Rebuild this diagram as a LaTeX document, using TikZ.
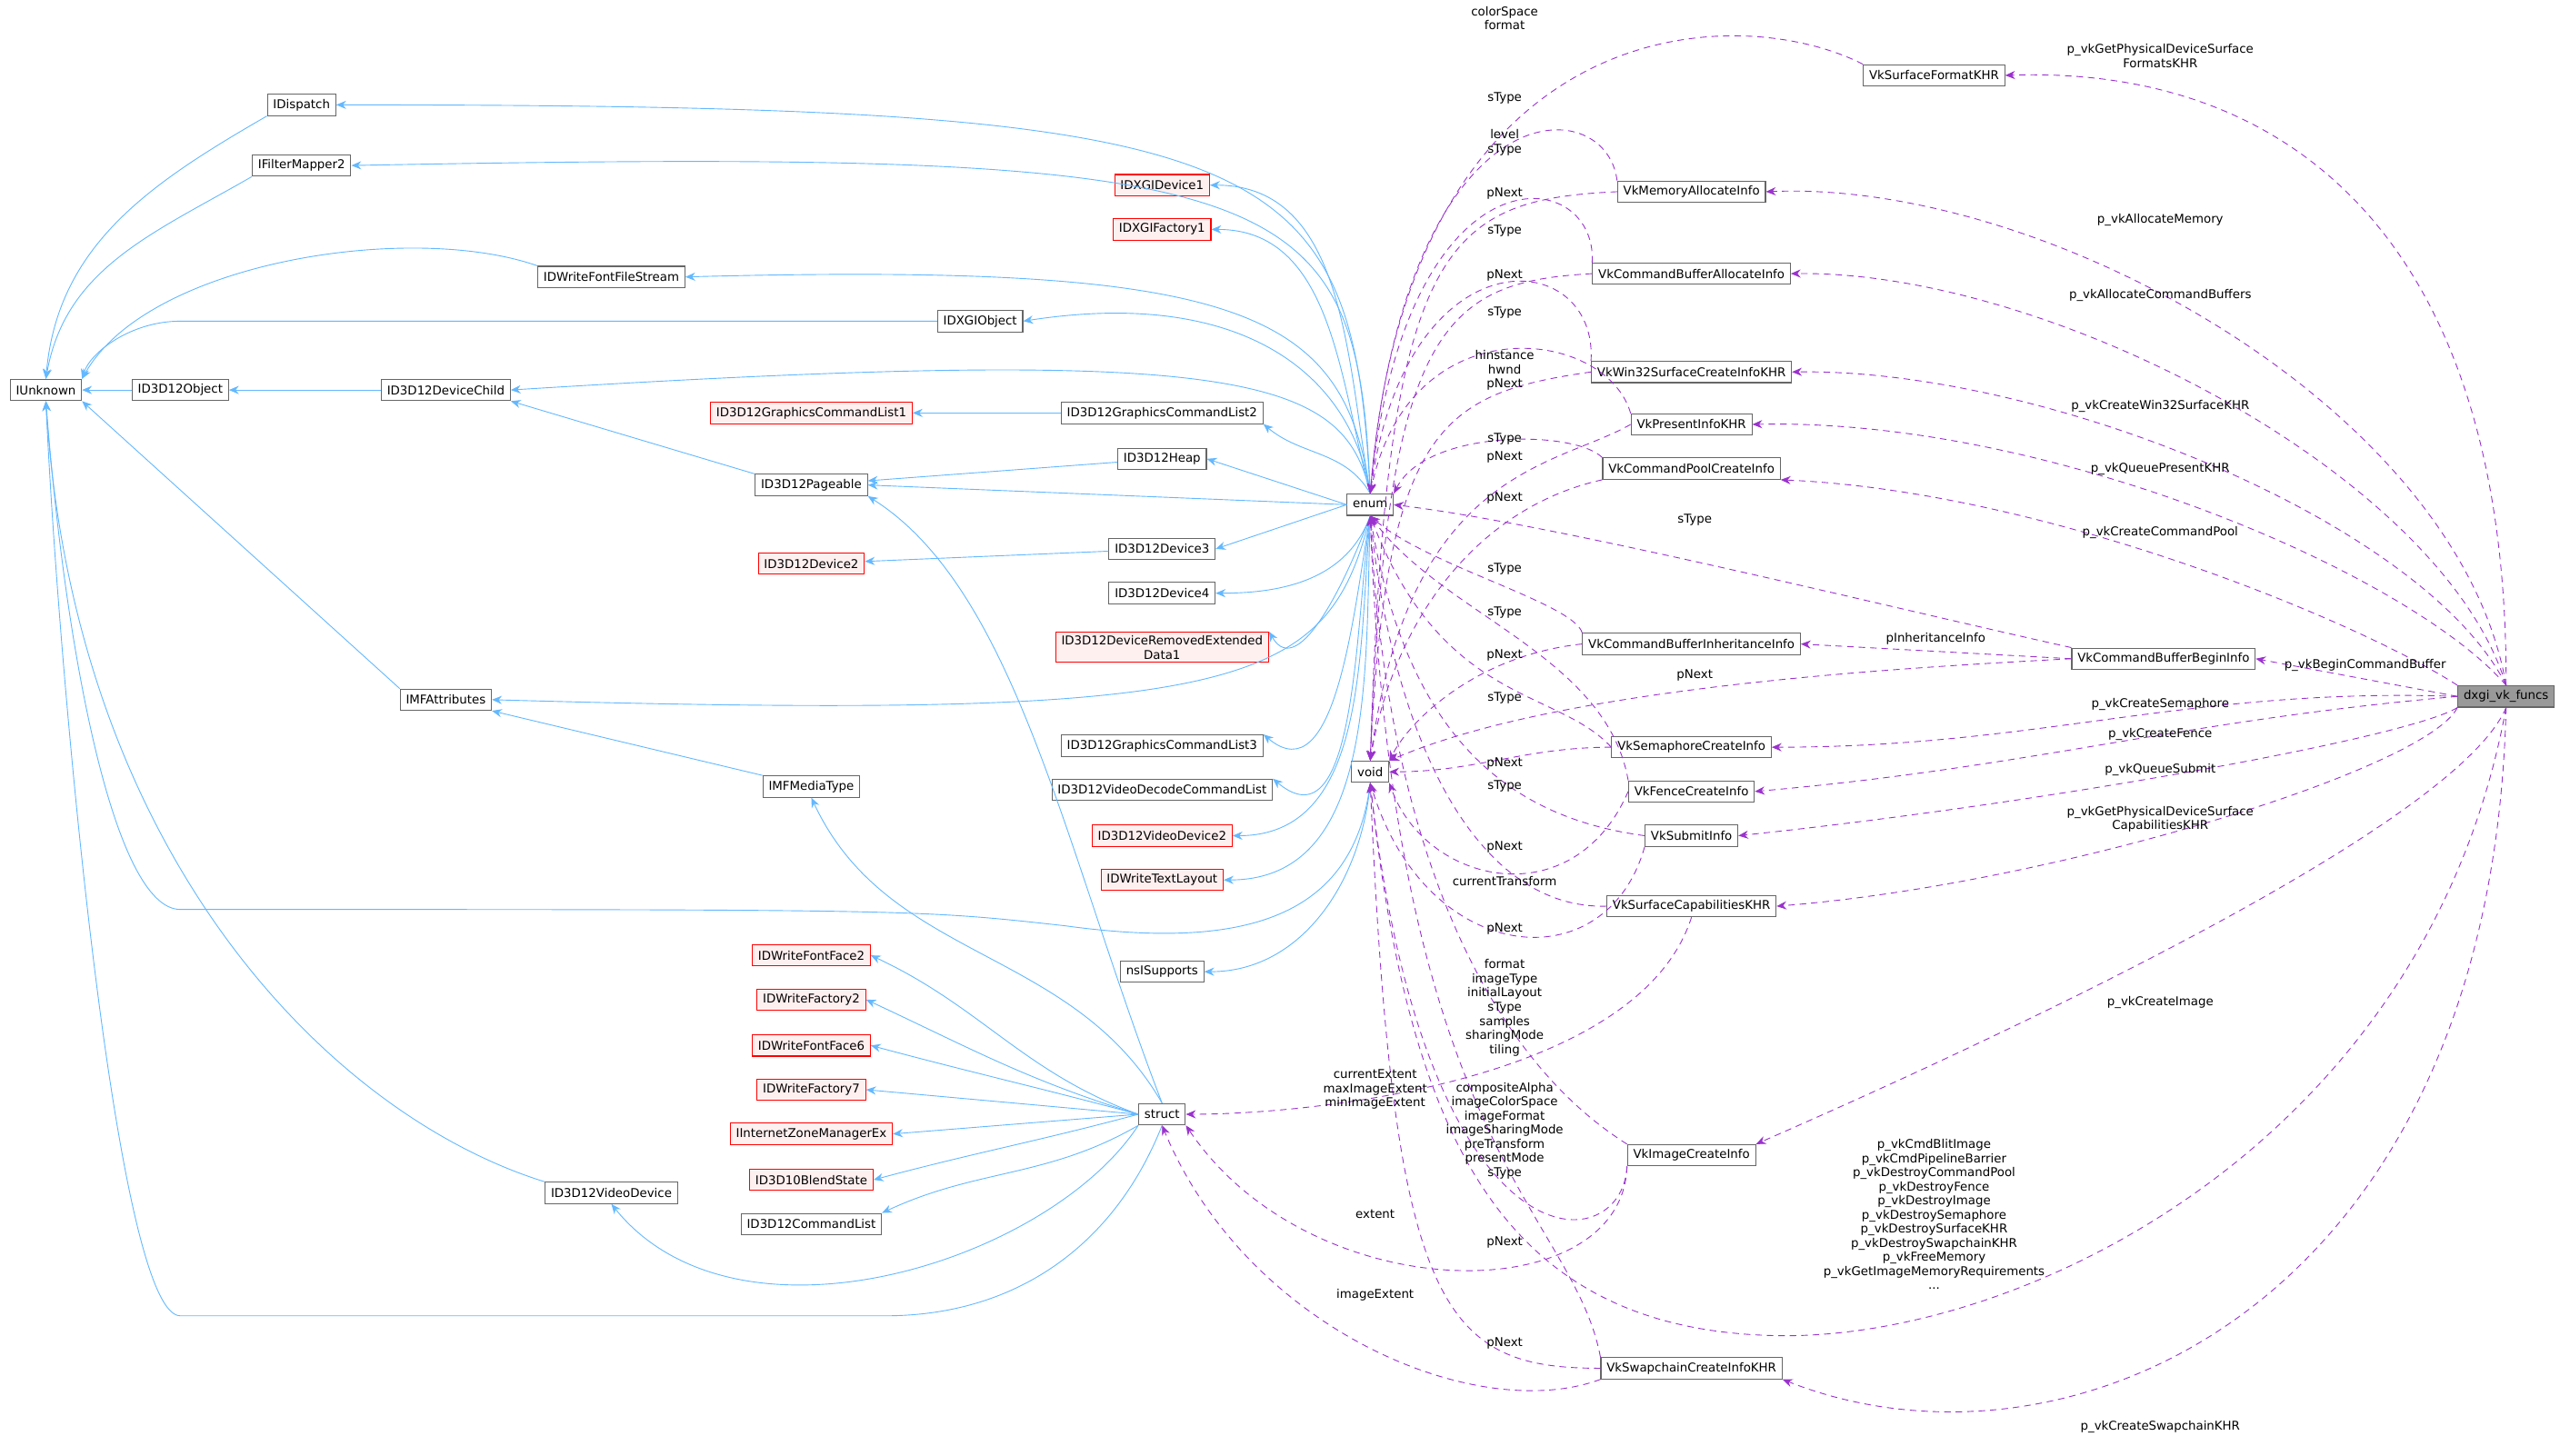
\documentclass[tikz,border=0pt]{standalone}
\usepackage{fontspec}
\setmainfont{DejaVu Sans}
\usetikzlibrary{arrows.meta}
\definecolor{inh}{HTML}{63B8FF}
\definecolor{ppl}{HTML}{9A32CD}
\definecolor{bx}{HTML}{666666}
\tikzset{
  cls/.style={draw=bx, fill=white, font=\fontsize{7.4}{8.8}\selectfont, inner xsep=3.5pt, inner ysep=0pt, minimum height=13pt, line width=.6pt},
  bad/.style={cls, draw=red, fill=red!6},
  me/.style={cls, fill=black!40},
  lbl/.style={font=\fontsize{7.4}{8.6}\selectfont, align=center, inner sep=0pt},
  inh/.style={draw=inh, line width=.5pt, -{Stealth[length=6pt,width=5pt]}},
  use/.style={draw=ppl, line width=.5pt, dash pattern=on 4pt off 3pt, -{Stealth[length=6pt,width=5pt]}},
}
\begin{document}
\begin{tikzpicture}[x=1pt, y=-1pt]
\useasboundingbox (0,0) rectangle (1568,888);
% classes
\node[cls] (IUnknown) at (28,238) {IUnknown};
\node[cls] (IDispatch) at (184,64) {IDispatch};
\node[cls] (IFilterMapper2) at (184,101) {IFilterMapper2};
\node[cls] (ID3D12Object) at (110,238) {ID3D12Object};
\node[cls] (ID3D12DeviceChild) at (272,238) {ID3D12DeviceChild};
\node[cls] (IDWriteFontFileStream) at (373,169) {IDWriteFontFileStream};
\node[cls] (IDXGIObject) at (598,196) {IDXGIObject};
\node[bad] (IDXGIDevice1) at (709,113) {IDXGIDevice1};
\node[bad] (IDXGIFactory1) at (709,140) {IDXGIFactory1};
\node[bad] (CmdList1) at (495,252) {ID3D12GraphicsCommandList1};
\node[cls] (CmdList2) at (709,252) {ID3D12GraphicsCommandList2};
\node[cls] (ID3D12Heap) at (709,280) {ID3D12Heap};
\node[cls] (ID3D12Pageable) at (495,296) {ID3D12Pageable};
\node[cls] (ID3D12Device3) at (709,335) {ID3D12Device3};
\node[bad] (ID3D12Device2) at (495,344) {ID3D12Device2};
\node[cls] (ID3D12Device4) at (709,362) {ID3D12Device4};
\node[bad, align=center, inner ysep=2pt] (DRED1) at (709,395) {ID3D12DeviceRemovedExtended\\Data1};
\node[cls] (IMFAttributes) at (272,427) {IMFAttributes};
\node[cls] (IMFMediaType) at (495,480) {IMFMediaType};
\node[cls] (CmdList3) at (709,455) {ID3D12GraphicsCommandList3};
\node[cls] (VideoDecode) at (709,482) {ID3D12VideoDecodeCommandList};
\node[bad] (VideoDevice2) at (709,510) {ID3D12VideoDevice2};
\node[bad] (IDWriteTextLayout) at (709,537) {IDWriteTextLayout};
\node[cls] (nsISupports) at (709,593) {nsISupports};
\node[bad] (IDWriteFontFace2) at (495,583) {IDWriteFontFace2};
\node[bad] (IDWriteFactory2) at (495,610) {IDWriteFactory2};
\node[bad] (IDWriteFontFace6) at (495,638) {IDWriteFontFace6};
\node[bad] (IDWriteFactory7) at (495,665) {IDWriteFactory7};
\node[bad] (IInternetZoneManagerEx) at (495,692) {IInternetZoneManagerEx};
\node[bad] (ID3D10BlendState) at (495,720) {ID3D10BlendState};
\node[cls] (ID3D12CommandList) at (495,747) {ID3D12CommandList};
\node[cls] (ID3D12VideoDevice) at (373,728) {ID3D12VideoDevice};
\node[cls] (struct) at (709,680) {struct};
\node[cls] (enum) at (836,308) {enum};
\node[cls] (void) at (836,471) {void};
% vulkan structs
\node[cls] (VkSurfaceFormatKHR) at (1180,46) {VkSurfaceFormatKHR};
\node[cls] (VkMemoryAllocateInfo) at (1032,117) {VkMemoryAllocateInfo};
\node[cls] (VkCmdBufAllocInfo) at (1032,167) {VkCommandBufferAllocateInfo};
\node[cls] (VkWin32Info) at (1032,227) {VkWin32SurfaceCreateInfoKHR};
\node[cls] (VkPresentInfoKHR) at (1032,259) {VkPresentInfoKHR};
\node[cls] (VkCmdPoolInfo) at (1032,286) {VkCommandPoolCreateInfo};
\node[cls] (VkInheritInfo) at (1032,393) {VkCommandBufferInheritanceInfo};
\node[cls] (VkBeginInfo) at (1320,402) {VkCommandBufferBeginInfo};
\node[cls] (VkSemaphoreInfo) at (1032,456) {VkSemaphoreCreateInfo};
\node[cls] (VkFenceInfo) at (1032,483) {VkFenceCreateInfo};
\node[cls] (VkSubmitInfo) at (1032,510) {VkSubmitInfo};
\node[cls] (VkSurfaceCaps) at (1032,553) {VkSurfaceCapabilitiesKHR};
\node[cls] (VkImageInfo) at (1032,705) {VkImageCreateInfo};
\node[cls] (VkSwapchainInfo) at (1032,835) {VkSwapchainCreateInfoKHR};
\node[me] (dxgi) at (1529,425) {dxgi\_vk\_funcs};
% inheritance
\draw[inh] (IDispatch.south west) to[out=-150,in=85] (IUnknown.north);
\draw[inh] (IFilterMapper2.south west) to[out=-150,in=80] (IUnknown.north);
\draw[inh] (IDWriteFontFileStream.north west) .. controls (250,135) and (90,160) .. (IUnknown.north east);
\draw[inh] (IDXGIObject.west) -- (110,196) .. controls (80,196) and (55,215) .. (IUnknown.north east);
\draw[inh] (ID3D12Object) -- (IUnknown);
\draw[inh] (ID3D12DeviceChild) -- (ID3D12Object);
\draw[inh] (ID3D12Pageable.north west) -- (ID3D12DeviceChild.south east);
\draw[inh] (CmdList2) -- (CmdList1);
\draw[inh] (ID3D12Heap) -- (ID3D12Pageable);
\draw[inh] (ID3D12Device3) -- (ID3D12Device2);
\draw[inh] (IMFAttributes.north west) -- (IUnknown.south east);
\draw[inh] (IMFMediaType.north west) -- (IMFAttributes.south east);
\draw[inh] (ID3D12VideoDevice.north west) .. controls (200,680) and (45,520) .. (IUnknown.south);
\draw[inh] (enum.north) .. controls (825,90) and (780,64) .. (IDispatch.east);
\draw[inh] (enum.north) .. controls (828,110) and (790,90) .. (IFilterMapper2.east);
\draw[inh] (enum.north) .. controls (820,190) and (760,160) .. (IDWriteFontFileStream.east);
\draw[inh] (enum.north) .. controls (825,230) and (760,175) .. (IDXGIObject.east);
\draw[inh] (enum.north) to[out=100,in=0] (IDXGIDevice1.east);
\draw[inh] (enum.north) to[out=105,in=0] (IDXGIFactory1.east);
\draw[inh] (enum.north) .. controls (820,230) and (760,210) .. (ID3D12DeviceChild.east);
\draw[inh] (enum.north) to[out=120,in=-40] (CmdList2.south east);
\draw[inh] (enum.west) -- (ID3D12Heap.east);
\draw[inh] (enum.west) -- (ID3D12Pageable.east);
\draw[inh] (enum.west) -- (ID3D12Device3.east);
\draw[inh] (enum.south) to[out=-110,in=0] (ID3D12Device4.east);
\draw[inh] (enum.south) to[out=-110,in=-60] (DRED1.north east);
\draw[inh] (enum.south) .. controls (810,420) and (760,440) .. (IMFAttributes.east);
\draw[inh] (enum.south) to[out=-100,in=-40] (CmdList3.north east);
\draw[inh] (enum.south) to[out=-98,in=-40] (VideoDecode.north east);
\draw[inh] (enum.south) to[out=-95,in=0] (VideoDevice2.east);
\draw[inh] (enum.south) to[out=-92,in=0] (IDWriteTextLayout.east);
\draw[inh] (void.south) to[out=-95,in=0] (nsISupports.east);
\draw[inh] (void.south) .. controls (826,560) and (760,580) .. (650,565) .. controls (560,555) .. (110,555) .. controls (70,555) and (40,400) .. (IUnknown.south);
\draw[inh] (struct.south) .. controls (680,760) and (620,803) .. (540,803) -- (110,803) .. controls (70,803) and (35,400) .. (IUnknown.south);
\draw[inh] (struct.north) .. controls (650,520) and (620,360) .. (ID3D12Pageable.south east);
\draw[inh] (struct.north) to[out=120,in=-65] (IMFMediaType.south);
\draw[inh] (struct.west) to[out=160,in=-25] (IDWriteFontFace2.east);
\draw[inh] (struct.west) to[out=163,in=-25] (IDWriteFactory2.east);
\draw[inh] (struct.west) to[out=165,in=-15] (IDWriteFontFace6.east);
\draw[inh] (struct.west) -- (IDWriteFactory7.east);
\draw[inh] (struct.west) -- (IInternetZoneManagerEx.east);
\draw[inh] (struct.west) to[out=-165,in=15] (ID3D10BlendState.east);
\draw[inh] (struct.south west) to[out=-150,in=25] (ID3D12CommandList.north east);
\draw[inh] (struct.south west) .. controls (640,770) and (450,830) .. (ID3D12VideoDevice.south);
% usage from dxgi_vk_funcs
\draw[use] (dxgi.north) .. controls (1530,150) and (1400,40) .. (VkSurfaceFormatKHR.east);
\draw[use] (dxgi.north) .. controls (1500,250) and (1250,110) .. (VkMemoryAllocateInfo.east);
\draw[use] (dxgi.north) .. controls (1490,290) and (1250,165) .. (VkCmdBufAllocInfo.east);
\draw[use] (dxgi.north) .. controls (1480,320) and (1250,225) .. (VkWin32Info.east);
\draw[use] (dxgi.north) .. controls (1470,350) and (1250,255) .. (VkPresentInfoKHR.east);
\draw[use] (dxgi.north west) .. controls (1440,380) and (1250,300) .. (VkCmdPoolInfo.south east);
\draw[use] (dxgi.west) -- (VkBeginInfo.east);
\draw[use] (dxgi.west) to[out=178,in=0] (VkSemaphoreInfo.east);
\draw[use] (dxgi.west) to[out=-175,in=5] (VkFenceInfo.east);
\draw[use] (dxgi.south west) .. controls (1470,450) and (1250,490) .. (VkSubmitInfo.east);
\draw[use] (dxgi.south west) .. controls (1480,470) and (1250,540) .. (VkSurfaceCaps.east);
\draw[use] (dxgi.south) .. controls (1500,500) and (1250,620) .. (VkImageInfo.north east);
\draw[use] (dxgi.south) .. controls (1480,700) and (1230,820) .. (1080,815) .. controls (920,810) and (860,700) .. (void.south);
\draw[use] (dxgi.south) .. controls (1520,800) and (1260,910) .. (VkSwapchainInfo.south east);
\draw[use] (VkBeginInfo.west) -- (VkInheritInfo.east);
\draw[use] (VkBeginInfo.north west) .. controls (1150,370) and (950,320) .. (enum.east);
\draw[use] (VkBeginInfo.west) .. controls (1150,408) and (950,420) .. (void.north east);
% members to enum
\draw[use] (VkSurfaceFormatKHR.north west) .. controls (1060,0) and (860,5) .. (enum.north);
\draw[use] (VkMemoryAllocateInfo.north west) .. controls (980,55) and (858,50) .. (enum.north);
\draw[use] (VkCmdBufAllocInfo.north west) .. controls (975,100) and (858,85) .. (enum.north);
\draw[use] (VkWin32Info.north west) .. controls (975,150) and (858,140) .. (enum.north);
\draw[use] (VkPresentInfoKHR.north west) .. controls (980,200) and (860,185) .. (enum.north);
\draw[use] (VkCmdPoolInfo.north west) .. controls (960,262) and (870,262) .. (enum.north east);
\draw[use] (VkInheritInfo.north west) .. controls (960,368) and (870,345) .. (enum.south);
\draw[use] (VkFenceInfo.north west) .. controls (980,400) and (880,375) .. (enum.south);
\draw[use] (VkSemaphoreInfo.west) .. controls (950,420) and (880,430) .. (enum.south);
\draw[use] (VkSubmitInfo.west) .. controls (930,500) and (860,460) .. (enum.south);
\draw[use] (VkSurfaceCaps.west) .. controls (900,555) and (850,450) .. (enum.south);
\draw[use] (VkImageInfo.north west) .. controls (900,640) and (845,500) .. (enum.south);
\draw[use] (VkSwapchainInfo.north west) .. controls (960,740) and (850,700) .. (enum.south);
% members to void
\draw[use] (VkMemoryAllocateInfo.west) .. controls (880,122) and (846,150) .. (void.north);
\draw[use] (VkCmdBufAllocInfo.west) .. controls (880,172) and (846,200) .. (void.north);
\draw[use] (VkWin32Info.west) .. controls (880,240) and (846,260) .. (void.north);
\draw[use] (VkPresentInfoKHR.west) .. controls (950,285) and (860,285) .. (void.north);
\draw[use] (VkCmdPoolInfo.south west) .. controls (900,310) and (850,380) .. (void.north);
\draw[use] (VkInheritInfo.west) .. controls (900,400) and (860,440) .. (void.north east);
\draw[use] (VkSemaphoreInfo.west) to[out=180,in=0] (void.east);
\draw[use] (VkFenceInfo.west) .. controls (960,560) and (870,540) .. (void.south east);
\draw[use] (VkSubmitInfo.south west) .. controls (980,600) and (870,590) .. (void.south);
\draw[use] (VkImageInfo.south west) .. controls (990,770) and (870,780) .. (void.south);
\draw[use] (VkSwapchainInfo.west) .. controls (880,835) and (850,800) .. (void.south);
% members to struct
\draw[use] (VkSurfaceCaps.south) .. controls (1000,660) and (800,680) .. (struct.east);
\draw[use] (VkImageInfo.south west) .. controls (990,800) and (800,800) .. (struct.south east);
\draw[use] (VkSwapchainInfo.south west) .. controls (900,870) and (760,810) .. (struct.south);
% labels
\node[lbl] at (918,11) {colorSpace\\format};
\node[lbl] at (918,60) {sType};
\node[lbl] at (918,87) {level\\sType};
\node[lbl] at (918,118) {pNext};
\node[lbl] at (918,141) {sType};
\node[lbl] at (918,168) {pNext};
\node[lbl] at (918,191) {sType};
\node[lbl] at (918,226) {hinstance\\hwnd\\pNext};
\node[lbl] at (918,268) {sType};
\node[lbl] at (918,279) {pNext};
\node[lbl] at (918,304) {pNext};
\node[lbl] at (918,347) {sType};
\node[lbl] at (918,374) {sType};
\node[lbl] at (918,400) {pNext};
\node[lbl] at (918,426) {sType};
\node[lbl] at (918,466) {pNext};
\node[lbl] at (918,480) {sType};
\node[lbl] at (918,517) {pNext};
\node[lbl] at (918,538) {currentTransform};
\node[lbl] at (918,567) {pNext};
\node[lbl] at (918,615) {format\\imageType\\initialLayout\\sType\\samples\\sharingMode\\tiling};
\node[lbl] at (918,690) {compositeAlpha\\imageColorSpace\\imageFormat\\imageSharingMode\\preTransform\\presentMode\\sType};
\node[lbl] at (918,758) {pNext};
\node[lbl] at (918,820) {pNext};
\node[lbl] at (839,665) {currentExtent\\maxImageExtent\\minImageExtent};
\node[lbl] at (839,741) {extent};
\node[lbl] at (839,790) {imageExtent};
\node[lbl] at (1034,317) {sType};
\node[lbl] at (1034,412) {pNext};
\node[lbl] at (1181,390) {pInheritanceInfo};
\node[lbl] at (1318,34) {p\_vkGetPhysicalDeviceSurface\\FormatsKHR};
\node[lbl] at (1318,134) {p\_vkAllocateMemory};
\node[lbl] at (1318,180) {p\_vkAllocateCommandBuffers};
\node[lbl] at (1318,248) {p\_vkCreateWin32SurfaceKHR};
\node[lbl] at (1318,286) {p\_vkQueuePresentKHR};
\node[lbl] at (1318,325) {p\_vkCreateCommandPool};
\node[lbl] at (1443,406) {p\_vkBeginCommandBuffer};
\node[lbl] at (1318,430) {p\_vkCreateSemaphore};
\node[lbl] at (1318,448) {p\_vkCreateFence};
\node[lbl] at (1318,470) {p\_vkQueueSubmit};
\node[lbl] at (1318,500) {p\_vkGetPhysicalDeviceSurface\\CapabilitiesKHR};
\node[lbl] at (1318,612) {p\_vkCreateImage};
\node[lbl] at (1180,741) {p\_vkCmdBlitImage\\p\_vkCmdPipelineBarrier\\p\_vkDestroyCommandPool\\p\_vkDestroyFence\\p\_vkDestroyImage\\p\_vkDestroySemaphore\\p\_vkDestroySurfaceKHR\\p\_vkDestroySwapchainKHR\\p\_vkFreeMemory\\p\_vkGetImageMemoryRequirements\\...};
\node[lbl] at (1318,871) {p\_vkCreateSwapchainKHR};
\end{tikzpicture}
\end{document}
